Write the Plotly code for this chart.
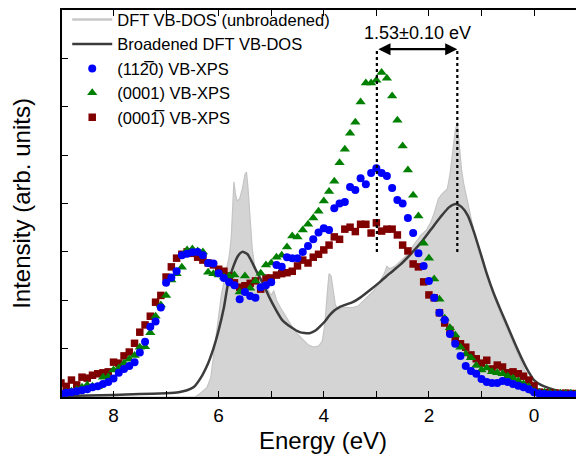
import plotly.graph_objects as go

# ---------------- data ----------------
energy = [9.0, 8.9, 8.8, 8.7, 8.6, 8.5, 8.4, 8.3, 8.2, 8.1, 8.0,
          7.9, 7.8, 7.7, 7.6, 7.5, 7.4, 7.3, 7.2, 7.1, 7.0,
          6.9, 6.8, 6.7, 6.6, 6.5, 6.4, 6.3, 6.2, 6.1, 6.0,
          5.9, 5.8, 5.7, 5.6, 5.5, 5.4, 5.3, 5.2, 5.1, 5.0,
          4.9, 4.8, 4.7, 4.6, 4.5, 4.4, 4.3, 4.2, 4.1, 4.0,
          3.9, 3.8, 3.7, 3.6, 3.5, 3.4, 3.3, 3.2, 3.1, 3.0,
          2.9, 2.8, 2.7, 2.6, 2.5, 2.4, 2.3, 2.2, 2.1, 2.0,
          1.9, 1.8, 1.7, 1.6, 1.5, 1.4, 1.3, 1.2, 1.1, 1.0,
          0.9, 0.8, 0.7, 0.6, 0.5, 0.4, 0.3, 0.2, 0.1, 0.0,
          -0.1, -0.2, -0.3, -0.4, -0.5, -0.6, -0.7, -0.8, -0.9, -1.0]

xps_1120 = [0.07, 0.09, 0.10, 0.12, 0.14, 0.16, 0.20, 0.22, 0.27, 0.31, 0.38,
            0.50, 0.58, 0.64, 0.72, 0.92, 1.14, 1.45, 1.56, 1.85, 2.36,
            2.47, 2.60, 2.93, 2.96, 2.99, 3.00, 2.93, 2.77, 2.76, 2.56,
            2.46, 2.37, 2.31, 2.02, 2.17, 2.09, 2.05, 2.27, 2.31, 2.37,
            2.73, 2.69, 2.89, 2.87, 2.87, 3.00, 3.12, 3.26, 3.40, 3.49,
            3.45, 3.90, 4.00, 4.03, 4.34, 4.28, 4.52, 4.40, 4.63, 4.73,
            4.63, 4.57, 4.32, 4.07, 4.00, 3.70, 3.39, 2.97, 2.71, 2.40,
            2.05, 1.74, 1.59, 1.30, 1.10, 0.85, 0.64, 0.54, 0.48, 0.37,
            0.31, 0.29, 0.29, 0.33, 0.31, 0.27, 0.23, 0.20, 0.16, 0.10,
            0.07, 0.06, 0.05, 0.05, 0.05, 0.04, 0.05, 0.04, 0.04, 0.04]

xps_0001 = [0.08, 0.10, 0.12, 0.15, 0.20, 0.25, 0.22, 0.21, 0.41, 0.42, 0.56,
            0.60, 0.70, 0.78, 0.86, 1.03, 1.04, 1.33, 1.67, 1.90, 2.10,
            2.42, 2.55, 2.68, 3.04, 3.06, 3.02, 3.00, 2.58, 2.55, 2.52,
            2.48, 2.50, 2.52, 2.17, 2.50, 2.25, 2.40, 2.56, 2.73, 2.77,
            2.89, 2.93, 3.10, 3.33, 3.31, 3.45, 3.57, 3.70, 3.84, 4.05,
            4.25, 4.46, 4.84, 5.12, 5.45, 5.68, 6.10, 6.49, 6.49, 6.55,
            6.71, 6.59, 6.22, 5.72, 5.19, 4.69, 4.17, 3.74, 3.18, 2.87,
            2.44, 2.02, 1.63, 1.43, 1.28, 1.03, 0.89, 0.81, 0.65, 0.56,
            0.60, 0.52, 0.50, 0.48, 0.43, 0.39, 0.33, 0.27, 0.21, 0.12,
            0.10, 0.10, 0.09, 0.08, 0.08, 0.07, 0.08, 0.07, 0.07, 0.07]

xps_000m1 = [0.29, 0.22, 0.35, 0.25, 0.41, 0.39, 0.45, 0.48, 0.50, 0.52, 0.72,
             0.70, 0.85, 0.93, 1.11, 1.34, 1.49, 1.67, 1.96, 2.10, 2.48,
             2.69, 2.87, 2.95, 3.00, 2.97, 2.89, 2.83, 2.77, 2.73, 2.64,
             2.60, 2.50, 2.36, 2.27, 2.30, 2.35, 2.40, 2.23, 2.46, 2.46,
             2.52, 2.55, 2.57, 2.60, 2.71, 2.83, 2.77, 2.89, 2.95, 3.04,
             3.14, 3.31, 3.26, 3.47, 3.51, 3.42, 3.57, 3.57, 3.39, 3.60,
             3.43, 3.47, 3.47, 3.35, 3.14, 3.02, 2.75, 2.69, 2.38, 2.11,
             2.05, 1.74, 1.53, 1.38, 1.20, 1.10, 1.03, 0.87, 0.79, 0.70,
             0.76, 0.58, 0.66, 0.62, 0.50, 0.52, 0.48, 0.43, 0.35, 0.23,
             0.10, 0.09, 0.08, 0.08, 0.07, 0.08, 0.07, 0.07, 0.06, 0.07]

dos_energy = [9.0, 6.45, 6.38, 6.3, 6.22, 6.15, 6.1, 6.05, 6.0, 5.95, 5.88, 5.8,
              5.76, 5.73, 5.71, 5.68, 5.65, 5.6, 5.55, 5.5, 5.47, 5.44, 5.4,
              5.36, 5.3, 5.22, 5.12, 5.05, 5.0, 4.95, 4.9, 4.8, 4.7, 4.6, 4.5,
              4.4, 4.3, 4.2, 4.1, 4.03, 3.98, 3.93, 3.9, 3.86, 3.82, 3.78, 3.72,
              3.65, 3.55, 3.45, 3.35, 3.25, 3.15, 3.05, 2.95, 2.85, 2.8, 2.75,
              2.65, 2.55, 2.45, 2.35, 2.25, 2.15, 2.05, 1.97, 1.9, 1.82, 1.75,
              1.7, 1.65, 1.6, 1.55, 1.5, 1.46, 1.42, 1.38, 1.34, 1.28, 1.22,
              1.15, 1.05, 0.95, 0.85, 0.75, 0.65, 0.55, 0.45, 0.35, 0.25, 0.15,
              0.08, 0.02, -0.05, -0.2, -1.0]
dos_unbroadened = [0.0, 0.0, 0.05, 0.12, 0.2, 0.4, 0.8, 1.2, 1.6, 2.1, 2.5, 2.9,
                   3.3, 4.1, 4.45, 4.2, 4.05, 4.1, 4.3, 4.6, 4.65, 4.3, 3.7,
                   3.05, 2.6, 2.45, 2.35, 2.2, 2.1, 2.2, 2.0, 1.8, 1.62, 1.45, 1.3,
                   1.18, 1.08, 1.03, 1.05, 1.15, 1.5, 2.2, 2.55, 2.5, 2.2, 1.9, 1.8,
                   1.85, 1.85, 1.85, 1.88, 1.98, 2.1, 2.2, 2.35, 2.55, 2.7, 2.65,
                   2.7, 2.8, 2.9, 3.05, 3.2, 3.35, 3.45, 3.6, 3.8, 4.1, 4.2,
                   4.25, 4.3, 4.6, 5.0, 5.5, 5.68, 5.1, 4.7, 4.42, 4.1, 3.8,
                   3.45, 3.0, 2.65, 2.35, 2.05, 1.75, 1.5, 1.25, 1.0, 0.75, 0.5,
                   0.3, 0.12, 0.03, 0.0, 0.0]

brd_energy = [9.0, 8.0, 7.5, 7.0, 6.76, 6.6, 6.48, 6.35, 6.2, 6.1, 6.0, 5.9, 5.82,
              5.72, 5.63, 5.55, 5.45, 5.38, 5.29, 5.15, 5.04, 4.92, 4.79, 4.62,
              4.46, 4.27, 4.15, 4.08, 3.98, 3.89, 3.8, 3.7, 3.58, 3.45, 3.3,
              3.12, 2.93, 2.75, 2.55, 2.35, 2.16, 1.97, 1.78, 1.62, 1.49, 1.38,
              1.26, 1.14, 1.02, 0.9, 0.77, 0.63, 0.5, 0.37, 0.25, 0.12, 0.0,
              -0.13, -0.27, -0.45, -0.65, -1.0]
dos_broadened = [0.02, 0.04, 0.06, 0.08, 0.1, 0.14, 0.2, 0.38, 0.7, 1.0, 1.38, 1.85,
                 2.35, 2.7, 2.92, 3.0, 2.95, 2.82, 2.62, 2.33, 2.07, 1.82, 1.59,
                 1.44, 1.34, 1.32, 1.38, 1.45, 1.56, 1.69, 1.79, 1.86, 1.91, 1.96,
                 2.06, 2.21, 2.38, 2.55, 2.73, 2.95, 3.18, 3.45, 3.72, 3.92, 3.99,
                 3.93, 3.75, 3.4, 2.98, 2.55, 2.15, 1.78, 1.45, 1.12, 0.83, 0.55,
                 0.35, 0.25, 0.19, 0.13, 0.1, 0.07]

XPS_PEAK = 2.99      # eV, VB-XPS maximum
DFT_PEAK = 1.46      # eV, broadened DFT maximum
MARK_BOTTOM = 3.0
MARK_TOP = 7.19
label_text = "1.53\u00b10.10 eV"

x_tickvals = [8, 7, 6, 5, 4, 3, 2, 1, 0]
x_ticktext = ["8", "", "6", "", "4", "", "2", "", "0"]
y_tickvals = [0, 1, 2, 3, 4, 5, 6, 7, 8]

FONT = "Liberation Sans, Arial, Helvetica, sans-serif"

fig = go.Figure()

# unbroadened DFT (filled)
fig.add_trace(go.Scatter(x=dos_energy, y=dos_unbroadened, mode="lines",
                         fill="tozeroy", fillcolor="#d4d4d4",
                         line=dict(color="#c4c4c4", width=1.2),
                         showlegend=False, hoverinfo="skip"))
# legend proxy for unbroadened DOS
fig.add_trace(go.Scatter(x=[None], y=[None], mode="lines",
                         line=dict(color="#c8c8c8", width=2.5),
                         name="DFT VB-DOS (unbroadened)", legendrank=1))
fig.add_trace(go.Scatter(x=brd_energy, y=dos_broadened, mode="lines",
                         line=dict(color="#3c3c3c", width=2.5, shape="spline", smoothing=0.6),
                         name="Broadened DFT VB-DOS", legendrank=2))

fig.add_trace(go.Scatter(x=energy, y=xps_000m1, mode="markers",
                         marker=dict(symbol="square", size=7.5, color="#800000"),
                         name="(0001\u0305) VB-XPS", legendrank=5))
fig.add_trace(go.Scatter(x=energy, y=xps_0001, mode="markers",
                         marker=dict(symbol="triangle-up", size=9, color="#008000"),
                         name="(0001) VB-XPS", legendrank=4))
fig.add_trace(go.Scatter(x=energy, y=xps_1120, mode="markers",
                         marker=dict(symbol="circle", size=8, color="#0000ff"),
                         name="(112\u03050) VB-XPS", legendrank=3))

# dotted marker lines
for pk in (XPS_PEAK, DFT_PEAK):
    fig.add_trace(go.Scatter(x=[pk, pk], y=[MARK_BOTTOM, MARK_TOP], mode="lines",
                             line=dict(color="black", width=2.2, dash="dot"),
                             showlegend=False, hoverinfo="skip"))

fig.add_annotation(x=DFT_PEAK, y=MARK_TOP, ax=XPS_PEAK, ay=MARK_TOP,
                   xref="x", yref="y", axref="x", ayref="y",
                   text="", showarrow=True, arrowhead=2, startarrowhead=2,
                   arrowside="end+start", arrowsize=1.1, startarrowsize=1.1,
                   arrowwidth=2.2, arrowcolor="black", standoff=0, startstandoff=0)
fig.add_annotation(x=(XPS_PEAK + DFT_PEAK) / 2, y=MARK_TOP, xref="x", yref="y",
                   text=label_text, showarrow=False, yanchor="bottom", yshift=4,
                   font=dict(size=18, color="black", family=FONT))

axis_common = dict(showline=True, linecolor="black", linewidth=1.5, mirror="allticks",
                   ticks="inside", ticklen=6, tickwidth=1.3, tickcolor="black",
                   showgrid=False, zeroline=False)

fig.update_xaxes(range=[8.98, -0.95], tickvals=x_tickvals, ticktext=x_ticktext,
                 tickfont=dict(size=19, family=FONT, color="black"),
                 title=dict(text="Energy (eV)", font=dict(size=24, family=FONT, color="black"),
                            standoff=8),
                 **axis_common)
fig.update_yaxes(range=[0, 8], tickvals=y_tickvals, showticklabels=False,
                 title=dict(text="Intensity (arb. units)",
                            font=dict(size=24, family=FONT, color="black"), standoff=24),
                 **axis_common)

# page body has an 8px margin in the browser: size the figure to fill the rest
fig.update_layout(width=576, height=460,
                  margin=dict(l=54, r=0, t=2, b=71, autoexpand=False),
                  plot_bgcolor="white", paper_bgcolor="white",
                  font=dict(family=FONT, color="black"),
                  legend=dict(x=0.01, y=1.02, xanchor="left", yanchor="top",
                              bgcolor="rgba(0,0,0,0)", borderwidth=0,
                              font=dict(size=16.5, family=FONT, color="black"),
                              itemwidth=40, tracegroupgap=0))

fig.write_html("out.html")
